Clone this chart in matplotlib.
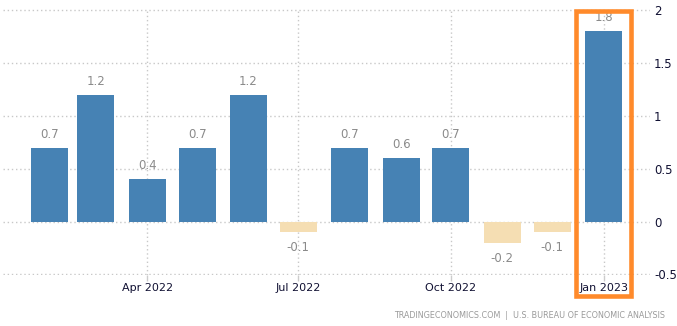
import matplotlib
matplotlib.use("Agg")
import matplotlib.pyplot as plt
import matplotlib.dates as mdates
from matplotlib.patches import Rectangle
import numpy as np

months = ["2022-02-01", "2022-03-01", "2022-04-01", "2022-05-01", "2022-06-01", "2022-07-01",
          "2022-08-01", "2022-09-01", "2022-10-01", "2022-11-01", "2022-12-01", "2023-01-01"]
values = [0.7, 1.2, 0.4, 0.7, 1.2, -0.1, 0.7, 0.6, 0.7, -0.2, -0.1, 1.8]
tick_dates = ["2022-04-01", "2022-07-01", "2022-10-01", "2023-01-01"]
tick_labels = ["Apr 2022", "Jul 2022", "Oct 2022", "Jan 2023"]
y_ticks = [-0.5, 0, 0.5, 1, 1.5, 2]
y_tick_labels = ["-0.5", "0", "0.5", "1", "1.5", "2"]
source = "TRADINGECONOMICS.COM  |  U.S. BUREAU OF ECONOMIC ANALYSIS"

x = mdates.date2num(np.array(months, dtype="datetime64[D]"))
xt = mdates.date2num(np.array(tick_dates, dtype="datetime64[D]"))

fig = plt.figure(figsize=(6.77, 3.26), dpi=100)
ax = fig.add_axes([3 / 677, (326 - 275) / 326, 647 / 677, 266 / 326])

colors = ["#4682B4" if v >= 0 else "#F5DEB3" for v in values]
ax.bar(x, values, width=22.3, color=colors, zorder=2)

for xi, v in zip(x, values):
    if v >= 0:
        ax.annotate(f"{v:.1f}", (xi, v), xytext=(0, 5), textcoords="offset points",
                    ha="center", va="bottom", fontsize=8.5, color="#8a8a8a")
    else:
        ax.annotate(f"{v:.1f}", (xi, v), xytext=(0, -6.5), textcoords="offset points",
                    ha="center", va="top", fontsize=8.5, color="#8a8a8a")

ax.set_xlim(x[0] - 28, x[-1] + 28)
ax.set_ylim(-0.505, 2.01)
ax.set_xticks(xt)
ax.set_xticklabels(tick_labels)
ax.set_yticks(y_ticks)
ax.set_yticklabels(y_tick_labels)
ax.yaxis.tick_right()
ax.tick_params(axis="y", length=0, pad=3, labelsize=8.5, labelcolor="#111133")
ax.tick_params(axis="x", length=4, width=1, color="#cccccc", pad=2, labelsize=8, labelcolor="#111133")
ax.grid(True, linestyle=(0, (1, 2)), color="#c8c8c8", linewidth=1, zorder=0)
for s in ax.spines.values():
    s.set_visible(False)

# highlight box around the latest bar
hx = x[-1]
rect = Rectangle((hx - 16.8, -0.707), 33.6, 2.7, fill=False, edgecolor="#FF8A2B",
                 linewidth=3.3, clip_on=False, zorder=5)
ax.add_patch(rect)

fig.text(665 / 677, 1 - 316 / 326, source, ha="right", va="center", fontsize=5.8,
         color="#9a9a9a")

fig.savefig("out.png", dpi=100)
